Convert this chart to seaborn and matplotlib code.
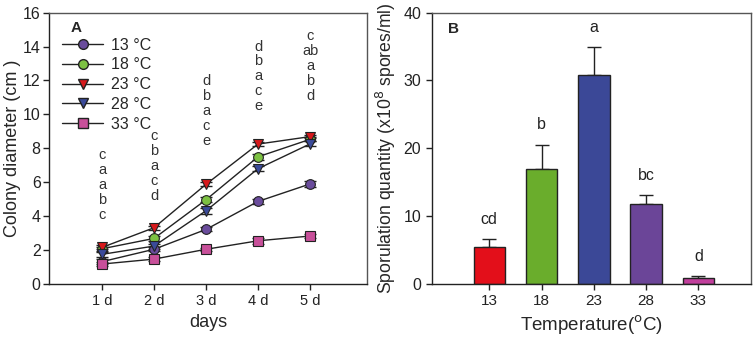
import numpy as np
import pandas as pd
import matplotlib
matplotlib.use("Agg")
import matplotlib.pyplot as plt
import seaborn as sns
from matplotlib.lines import Line2D

# panel A data: colony diameter (cm) per day
days = [1, 2, 3, 4, 5]
day_labels = ["1 d", "2 d", "3 d", "4 d", "5 d"]
temps = ["13 °C", "18 °C", "23 °C", "28 °C", "33 °C"]
d13 = [1.32, 2.05, 3.22, 4.87, 5.90]
d18 = [2.08, 2.69, 4.97, 7.50, 8.53]
d23 = [2.16, 3.32, 5.88, 8.25, 8.69]
d28 = [1.75, 2.24, 4.32, 6.80, 8.26]
d33 = [1.18, 1.47, 2.05, 2.55, 2.83]
e13 = [0.15, 0.12, 0.12, 0.15, 0.18]
e18 = [0.12, 0.15, 0.15, 0.18, 0.12]
e23 = [0.12, 0.12, 0.12, 0.12, 0.10]
e28 = [0.15, 0.15, 0.18, 0.15, 0.15]
e33 = [0.12, 0.10, 0.10, 0.18, 0.12]
# significance letters per day (top to bottom) and height of the top letter
day_letters = [["c", "a", "a", "b", "c"],
               ["c", "b", "a", "c", "d"],
               ["d", "b", "a", "c", "e"],
               ["d", "b", "a", "c", "e"],
               ["c", "ab", "a", "b", "d"]]
letter_top = [7.6, 8.7, 11.97, 14.0, 14.6]

# panel B data: sporulation quantity
temp_cats = ["13", "18", "23", "28", "33"]
spores = [5.5, 16.95, 30.8, 11.8, 0.93]
spores_err = [1.1, 3.6, 4.1, 1.3, 0.2]
spores_letters = ["cd", "b", "a", "bc", "d"]

line_colors = ["#6a4c9c", "#7cc142", "#d7191c", "#3a4a9a", "#c8509a"]
line_markers = ["o", "o", "v", "v", "s"]
bar_colors = ["#e30f1a", "#6aad2c", "#3b4897", "#6b4598", "#c13f9c"]

sns.set_style("ticks")
plt.rcParams["font.family"] = ["Liberation Sans", "DejaVu Sans"]

fig = plt.figure(figsize=(7.54, 3.41), dpi=100)
axA = fig.add_axes([0.065, 0.167, 0.422, 0.796])
axB = fig.add_axes([0.5726, 0.167, 0.4230, 0.796])

# ---- panel A
series = [d13, d18, d23, d28, d33]
errs = [e13, e18, e23, e28, e33]
rows = []
for t, vals in zip(temps, series):
    for d, v in zip(days, vals):
        rows.append({"day": d, "diam": v, "temp": t})
dfA = pd.DataFrame(rows)

sns.lineplot(data=dfA, x="day", y="diam", hue="temp", style="temp",
             palette=dict(zip(temps, line_colors)),
             markers=dict(zip(temps, line_markers)), dashes=False,
             ax=axA, legend=False, linewidth=1.0,
             markersize=7, markeredgecolor="#222222", markeredgewidth=0.8)
for line, c in zip(axA.get_lines(), line_colors):
    line.set_color("#222222")
    line.set_markerfacecolor(c)

for vals, er in zip(series, errs):
    axA.errorbar(days, vals, yerr=er, fmt="none", ecolor="#222222",
                 elinewidth=1.0, capsize=4, capthick=1.0, zorder=1)

for d, lets, top in zip(days, day_letters, letter_top):
    for i, l in enumerate(lets):
        axA.text(d, top - i * 0.88, l, ha="center", va="center",
                 fontsize=10.5, color="#333333")

handles = [Line2D([], [], color="#222222", lw=1.0, marker=m, markersize=7,
                  markerfacecolor=c, markeredgecolor="#222222")
           for c, m in zip(line_colors, line_markers)]
axA.legend(handles, temps, loc="upper left", bbox_to_anchor=(0.0, 0.955),
           frameon=False, fontsize=11.5, handlelength=2.6, handletextpad=0.5,
           labelspacing=0.3, borderaxespad=0.4)
axA.text(0.068, 0.97, "A", transform=axA.transAxes, fontsize=11,
         fontweight="bold", va="top")

axA.set_xlim(-0.02, 6.1)
axA.set_ylim(0, 16)
axA.set_xticks(days)
axA.set_xticklabels(day_labels)
axA.set_yticks(range(0, 17, 2))
axA.set_xlabel("days", fontsize=13)
axA.set_ylabel("Colony diameter (cm )", fontsize=13, labelpad=1)

# ---- panel B
dfB = pd.DataFrame({"temp": temp_cats, "spores": spores})
sns.barplot(data=dfB, x="temp", y="spores", hue="temp",
            palette=dict(zip(temp_cats, bar_colors)), legend=False,
            saturation=1, width=0.6, edgecolor="#222222", linewidth=1.0,
            ax=axB, errorbar=None)
xpos = np.arange(len(temp_cats))
axB.errorbar(xpos, spores, yerr=[np.zeros(len(spores)), spores_err],
             fmt="none", ecolor="#222222", elinewidth=1.0, capsize=5,
             capthick=1.0, zorder=0.5)
for x, v, e, l in zip(xpos, spores, spores_err, spores_letters):
    axB.text(x, v + e + 2.9, l, ha="center", va="center", fontsize=11.5,
             color="#222222")
axB.text(0.05, 0.965, "B", transform=axB.transAxes, fontsize=11,
         fontweight="bold", va="top")
axB.set_xlim(-1.1, 5.0)
axB.set_ylim(0, 40)
axB.set_yticks(range(0, 41, 10))
axB.set_xlabel("Temperature($^{\\rm o}$C)", fontsize=13.5)
axB.set_ylabel("Sporulation quantity (x10$^{8}$ spores/ml)", fontsize=12.7)

for ax in (axA, axB):
    ax.tick_params(direction="out", length=4, width=1.0, labelsize=11.5,
                   colors="#222222")
    for s in ("left", "bottom"):
        ax.spines[s].set_color("#222222")
        ax.spines[s].set_linewidth(1.0)
    for s in ("top", "right"):
        ax.spines[s].set_visible(True)
        ax.spines[s].set_color("#555555")
        ax.spines[s].set_linewidth(1.0)
axA.tick_params(axis="x", labelsize=10.5)
axA.tick_params(axis="y", pad=2)
axB.tick_params(axis="x", labelsize=11)

fig.savefig("out.png", dpi=100)
